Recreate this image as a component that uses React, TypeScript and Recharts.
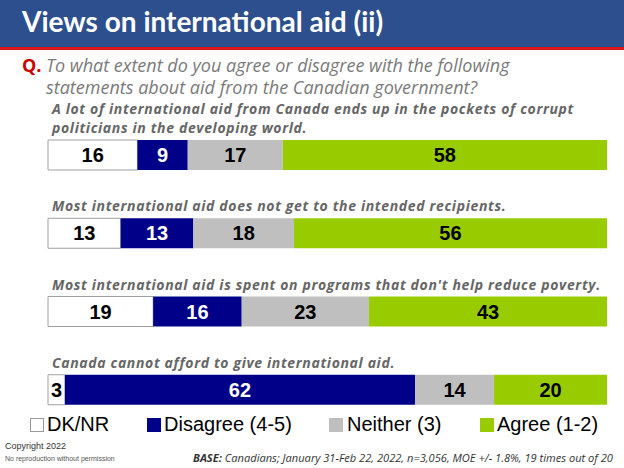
import React from "react";
import { BarChart, Bar, XAxis, YAxis, LabelList } from "recharts";

const statements: string[][] = [
  [
    "A lot of international aid from Canada ends up in the pockets of corrupt",
    "politicians in the developing world.",
  ],
  ["Most international aid does not get to the intended recipients."],
  ["Most international aid is spent on programs that don't help reduce poverty."],
  ["Canada cannot afford to give international aid."],
];
const dkValues = [16, 13, 19, 3];
const disagreeValues = [9, 13, 16, 62];
const neitherValues = [17, 18, 23, 14];
const agreeValues = [58, 56, 43, 20];
const seriesNames = ["DK/NR", "Disagree (4-5)", "Neither (3)", "Agree (1-2)"];
const seriesColors = ["#ffffff", "#000088", "#bfbfbf", "#99cc00"];

const data = statements.map((s, i) => ({
  name: "s" + i,
  dk: dkValues[i],
  disagree: disagreeValues[i],
  neither: neitherValues[i],
  agree: agreeValues[i],
}));

const numFont = "'Liberation Sans', Arial, sans-serif";

const StatementLabel = (props: any) => {
  const { x, y, height, index } = props;
  const lines = statements[index] || [];
  const cy = y + height / 2;
  const n = lines.length;
  return (
    <g>
      {lines.map((ln, k) => (
        <text
          key={k}
          x={x + 4}
          y={cy - 22 - (n - 1 - k) * 19}
          fill="#666666"
          fontFamily="'Open Sans', sans-serif"
          fontStyle="italic"
          fontWeight={700}
          fontSize={14}
          letterSpacing={0.65}
        >
          {ln}
        </text>
      ))}
    </g>
  );
};

const makeValueLabel = (color: string) => (props: any) => {
  const { x, y, width, height, value } = props;
  return (
    <text
      x={x + width / 2}
      y={y + height / 2 + 7}
      textAnchor="middle"
      fill={color}
      fontFamily={numFont}
      fontWeight={700}
      fontSize={20}
    >
      {value}
    </text>
  );
};

const legendPos = [
  { x: 30, tx: 47 },
  { x: 147, tx: 164 },
  { x: 329, tx: 347 },
  { x: 480, tx: 497 },
];

export default function App() {
  return (
    <div
      style={{
        position: "absolute",
        left: 0,
        top: 0,
        width: 624,
        height: 468,
        background: "#ffffff",
        overflow: "hidden",
      }}
    >
      <div
        style={{
          position: "absolute",
          left: 0,
          top: 0,
          width: 624,
          height: 47,
          background: "#2d4f8e",
          borderBottom: "3px solid #e0161e",
        }}
      />
      <div
        style={{
          position: "absolute",
          left: 22,
          top: 4,
          color: "#ffffff",
          fontFamily: "Lato, sans-serif",
          fontWeight: 700,
          fontSize: 28,
          lineHeight: "35px",
          whiteSpace: "nowrap",
        }}
      >
        Views on international aid (ii)
      </div>
      <div
        style={{
          position: "absolute",
          left: 22,
          top: 54,
          color: "#cc0000",
          fontFamily: "'Open Sans', sans-serif",
          fontWeight: 700,
          fontSize: 18,
          lineHeight: "22px",
        }}
      >
        Q.
      </div>
      <div
        style={{
          position: "absolute",
          left: 46,
          top: 54,
          color: "#7a7a7a",
          fontFamily: "'Open Sans', sans-serif",
          fontStyle: "italic",
          fontSize: 18,
          lineHeight: "22px",
          whiteSpace: "nowrap",
        }}
      >
        To what extent do you agree or disagree with the following
        <br />
        statements about aid from the Canadian government?
      </div>

      <div style={{ position: "absolute", left: 0, top: 0 }}>
        <BarChart
          width={624}
          height={468}
          data={data}
          layout="vertical"
          stackOffset="expand"
          margin={{ top: 116, right: 17, bottom: 39, left: 48 }}
          barCategoryGap={0}
          barSize={30}
        >
          <XAxis type="number" domain={[0, 1]} hide />
          <YAxis type="category" dataKey="name" hide />
          <Bar dataKey="dk" stackId="a" fill={seriesColors[0]} stroke="#a0a0a0" strokeWidth={1} isAnimationActive={false}>
            <LabelList dataKey="dk" content={makeValueLabel("#000000")} />
            <LabelList dataKey="dk" content={StatementLabel} />
          </Bar>
          <Bar dataKey="disagree" stackId="a" fill={seriesColors[1]} isAnimationActive={false}>
            <LabelList dataKey="disagree" content={makeValueLabel("#ffffff")} />
          </Bar>
          <Bar dataKey="neither" stackId="a" fill={seriesColors[2]} isAnimationActive={false}>
            <LabelList dataKey="neither" content={makeValueLabel("#000000")} />
          </Bar>
          <Bar dataKey="agree" stackId="a" fill={seriesColors[3]} isAnimationActive={false}>
            <LabelList dataKey="agree" content={makeValueLabel("#000000")} />
          </Bar>
        </BarChart>
      </div>

      {legendPos.map((p, i) => (
        <React.Fragment key={i}>
          <div
            style={{
              position: "absolute",
              left: p.x,
              top: 418,
              width: 14,
              height: 14,
              boxSizing: "border-box",
              background: seriesColors[i],
              border: i === 0 ? "1px solid #999999" : "none",
            }}
          />
          <div
            style={{
              position: "absolute",
              left: p.tx,
              top: 411,
              fontFamily: numFont,
              fontSize: 20,
              lineHeight: "26px",
              color: "#000000",
              whiteSpace: "nowrap",
            }}
          >
            {seriesNames[i]}
          </div>
        </React.Fragment>
      ))}

      <div
        style={{
          position: "absolute",
          left: 5,
          top: 441,
          fontFamily: numFont,
          fontSize: 9,
          lineHeight: "11px",
          color: "#333333",
          whiteSpace: "nowrap",
        }}
      >
        Copyright 2022
      </div>
      <div
        style={{
          position: "absolute",
          left: 5,
          top: 454,
          fontFamily: numFont,
          fontSize: 7,
          lineHeight: "9px",
          color: "#555555",
          whiteSpace: "nowrap",
        }}
      >
        No reproduction without permission
      </div>
      <div
        style={{
          position: "absolute",
          left: 193,
          top: 451,
          fontFamily: "'Open Sans', sans-serif",
          fontStyle: "italic",
          fontSize: 11.1,
          lineHeight: "13px",
          color: "#333333",
          whiteSpace: "nowrap",
        }}
      >
        <b>BASE:</b> Canadians; January 31-Feb 22, 2022, n=3,056, MOE +/- 1.8%, 19 times out of 20
      </div>
    </div>
  );
}
